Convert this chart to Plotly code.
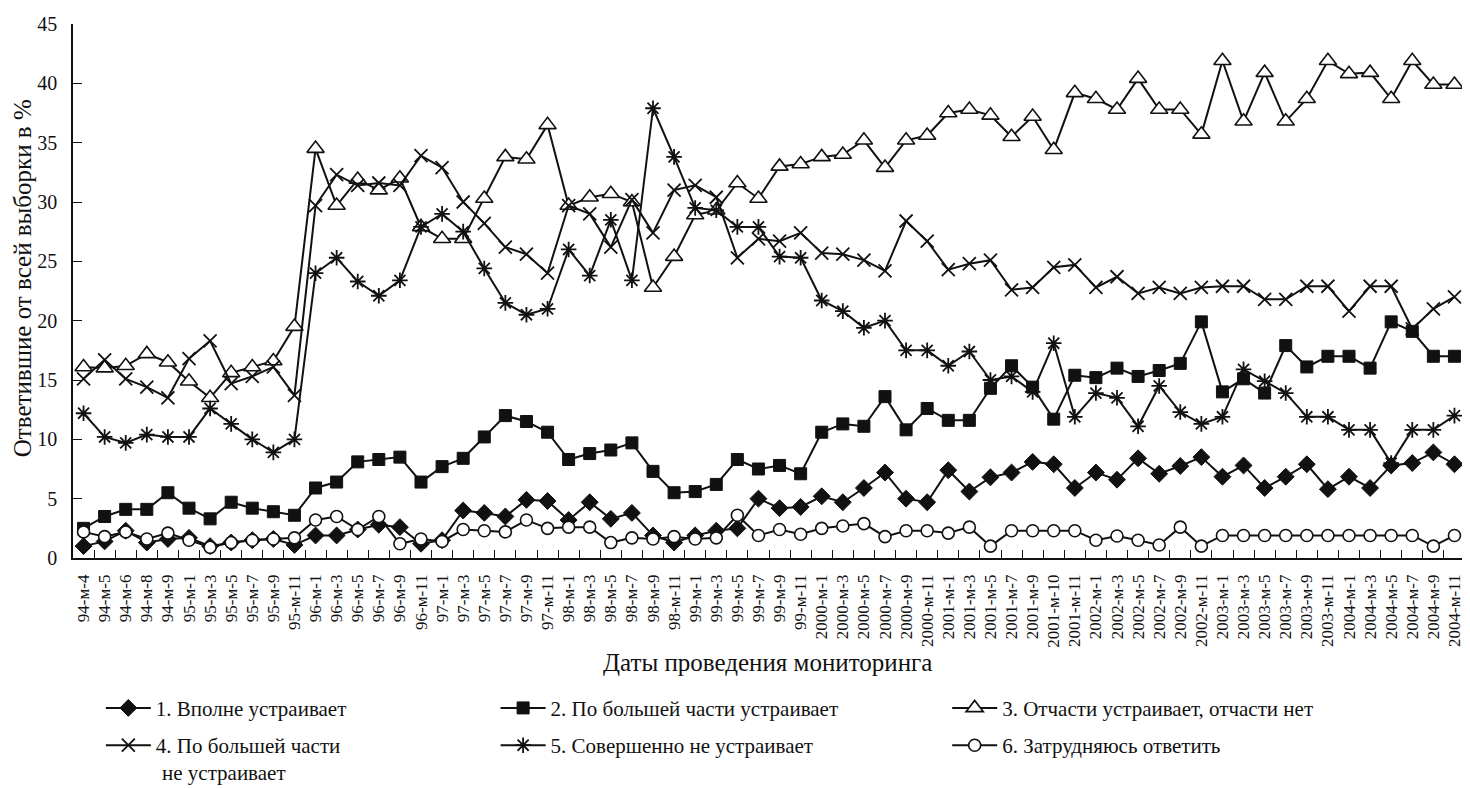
import plotly.graph_objects as go

dates = ["94-м-4","94-м-5","94-м-6","94-м-8","94-м-9","95-м-1","95-м-3","95-м-5","95-м-7","95-м-9","95-м-11",
         "96-м-1","96-м-3","96-м-5","96-м-7","96-м-9","96-м-11","97-м-1","97-м-3","97-м-5","97-м-7","97-м-9","97-м-11",
         "98-м-1","98-м-3","98-м-5","98-м-7","98-м-9","98-м-11","99-м-1","99-м-3","99-м-5","99-м-7","99-м-9","99-м-11",
         "2000-м-1","2000-м-3","2000-м-5","2000-м-7","2000-м-9","2000-м-11",
         "2001-м-1","2001-м-3","2001-м-5","2001-м-7","2001-м-9","2001-м-10","2001-м-11",
         "2002-м-1","2002-м-3","2002-м-5","2002-м-7","2002-м-9","2002-м-11",
         "2003-м-1","2003-м-3","2003-м-5","2003-м-7","2003-м-9","2003-м-11",
         "2004-м-1","2004-м-3","2004-м-5","2004-м-7","2004-м-9","2004-м-11"]

s1_fully = [1.0,1.4,2.3,1.3,1.6,1.7,1.0,1.3,1.5,1.6,1.1,
            1.9,1.9,2.4,2.8,2.6,1.2,1.5,4.0,3.8,3.5,4.9,4.8,
            3.2,4.7,3.3,3.8,1.9,1.3,1.9,2.3,2.5,5.0,4.2,4.3,
            5.2,4.7,5.9,7.2,5.0,4.7,
            7.4,5.6,6.8,7.2,8.1,7.9,5.9,
            7.2,6.6,8.4,7.1,7.75,8.5,
            6.85,7.8,5.9,6.85,7.9,5.8,
            6.85,5.9,7.8,8.0,8.9,7.9]

s2_mostly = [2.5,3.5,4.1,4.1,5.5,4.2,3.3,4.7,4.2,3.9,3.6,
             5.9,6.4,8.1,8.3,8.5,6.4,7.7,8.4,10.2,12.0,11.5,10.6,
             8.3,8.8,9.1,9.7,7.3,5.5,5.6,6.2,8.3,7.5,7.8,7.1,
             10.6,11.3,11.1,13.6,10.8,12.6,
             11.6,11.6,14.3,16.2,14.4,11.7,15.4,
             15.2,16.0,15.3,15.8,16.4,19.9,
             14.0,15.1,13.9,17.9,16.1,17.0,
             17.0,16.0,19.9,19.1,17.0,17.0]

s3_partly = [16.1,16.0,16.2,17.2,16.5,14.9,13.5,15.6,16.1,16.6,19.5,
             34.5,29.7,31.9,31.0,32.0,27.9,26.9,26.9,30.3,33.8,33.6,36.5,
             29.7,30.4,30.7,30.0,22.8,25.4,28.9,29.3,31.6,30.3,33.0,33.2,
             33.8,34.0,35.2,32.9,35.2,35.6,
             37.5,37.8,37.3,35.5,37.2,34.4,39.2,
             38.7,37.8,40.4,37.8,37.8,35.7,
             41.9,36.8,40.9,36.8,38.7,41.9,
             40.8,40.9,38.7,41.9,39.9,39.9]

s4_mostly_not = [15.1,16.7,15.1,14.4,13.5,16.8,18.3,14.7,15.3,16.1,13.7,
                 29.7,32.3,31.4,31.6,31.4,33.9,32.9,30.0,28.2,26.2,25.6,24.0,
                 29.7,29.0,26.2,30.2,27.4,31.0,31.4,30.4,25.3,26.9,26.7,27.4,
                 25.7,25.6,25.1,24.2,28.4,26.7,
                 24.3,24.8,25.1,22.6,22.8,24.5,24.7,
                 22.8,23.7,22.3,22.8,22.3,22.8,
                 22.9,22.9,21.8,21.8,22.9,22.9,
                 20.8,22.9,22.9,19.3,21.0,22.0]

s5_not_at_all = [12.2,10.2,9.7,10.4,10.2,10.2,12.6,11.3,10.0,8.9,10.0,
                 24.0,25.3,23.3,22.1,23.4,27.9,29.0,27.5,24.4,21.5,20.5,21.0,
                 26.0,23.8,28.5,23.4,37.9,33.8,29.5,29.3,27.9,27.9,25.4,25.3,
                 21.7,20.8,19.4,20.0,17.5,17.5,
                 16.2,17.4,15.0,15.3,14.0,18.1,11.9,
                 13.9,13.5,11.1,14.5,12.3,11.3,
                 11.9,15.9,14.9,13.9,11.9,11.9,
                 10.8,10.8,8.0,10.8,10.8,12.0]

s6_hard = [2.2,1.8,2.2,1.6,2.1,1.5,0.9,1.3,1.5,1.6,1.7,
           3.2,3.5,2.4,3.5,1.2,1.6,1.4,2.4,2.3,2.2,3.2,2.5,
           2.6,2.6,1.3,1.7,1.6,1.8,1.6,1.7,3.6,1.9,2.4,2.0,
           2.5,2.7,2.9,1.8,2.3,2.3,
           2.1,2.6,1.0,2.3,2.3,2.3,2.3,
           1.5,1.85,1.5,1.1,2.6,1.0,
           1.9,1.9,1.9,1.9,1.9,1.9,
           1.9,1.9,1.9,1.9,1.0,1.9]

names = ["1. Вполне устраивает",
         "2. По большей части устраивает",
         "3. Отчасти устраивает, отчасти нет",
         "4. По большей части",
         "5. Совершенно не устраивает",
         "6. Затрудняюсь ответить"]
name4_line2 = "не устраивает"

FONT = "Liberation Serif"
INK = "#111111"
LEG_SIZE = 21

styles = [
    dict(symbol="diamond", size=13, color=INK, line=dict(color=INK, width=1)),
    dict(symbol="square", size=12, color=INK, line=dict(color=INK, width=1)),
    dict(symbol="triangle-up", size=15, color="white", line=dict(color=INK, width=1.6)),
    dict(symbol="x-thin", size=13, color=INK, line=dict(color=INK, width=1.8)),
    dict(symbol="asterisk", size=13, color=INK, line=dict(color=INK, width=1.8)),
    dict(symbol="circle", size=12, color="white", line=dict(color=INK, width=1.6)),
]
series = [s1_fully, s2_mostly, s3_partly, s4_mostly_not, s5_not_at_all, s6_hard]
legends = ["legend", "legend2", "legend3", "legend", "legend2", "legend3"]

fig = go.Figure()
for i, (vals, name, st, lg) in enumerate(zip(series, names, styles, legends)):
    fig.add_trace(go.Scatter(
        x=dates, y=vals, name=name, mode="lines+markers",
        line=dict(color=INK, width=2),
        marker=st, legend=lg, legendgroup=f"g{i}",
    ))

leg_common = dict(orientation="v", xanchor="left", yanchor="top", yref="paper",
                  font=dict(family=FONT, size=LEG_SIZE, color=INK), bgcolor="rgba(0,0,0,0)",
                  tracegroupgap=7, itemwidth=45, valign="middle")

# page body has an 8px margin: the figure is sized and offset to compensate
fig.update_layout(
    width=1462, height=780,
    margin=dict(l=65, r=5, t=16, b=230, autoexpand=False),
    paper_bgcolor="white", plot_bgcolor="white",
    font=dict(family=FONT, color=INK),
    showlegend=True,
    legend=dict(x=0.020, y=-0.243, **leg_common),
    legend2=dict(x=0.3036, y=-0.243, **leg_common),
    legend3=dict(x=0.628, y=-0.243, **leg_common),
    xaxis=dict(type="category", range=[-0.5, len(dates) - 0.5],
               tickangle=-90, tickfont=dict(family=FONT, size=17, color=INK),
               ticks="inside", ticklen=8, tickwidth=1.3, tickcolor=INK,
               tickson="boundaries", showline=True, linecolor=INK, linewidth=1.5,
               showgrid=False, zeroline=False, ticklabelstandoff=8),
    yaxis=dict(range=[0, 45], tickvals=[0, 5, 10, 15, 20, 25, 30, 35, 40, 45],
               tickfont=dict(family=FONT, size=20, color=INK),
               ticks="inside", ticklen=9, tickwidth=1.3, tickcolor=INK,
               showline=True, linecolor=INK, linewidth=1.5,
               showgrid=False, zeroline=False, ticklabelstandoff=10),
    annotations=[
        dict(text="Ответившие от всей выборки в %", xref="paper", yref="paper",
             x=-51 / 1392, y=0.524, xanchor="center", yanchor="middle",
             textangle=-90, showarrow=False,
             font=dict(family=FONT, size=25, color=INK)),
        dict(text="Даты проведения мониторинга", xref="paper", yref="paper",
             x=0.4986, y=-0.195, xanchor="center", yanchor="middle", showarrow=False,
             font=dict(family=FONT, size=25, color=INK)),
        dict(text=name4_line2, xref="paper", yref="paper",
             x=87 / 1392, y=-0.403, xanchor="left", yanchor="middle", showarrow=False,
             font=dict(family=FONT, size=LEG_SIZE, color=INK)),
    ],
)

fig.write_html("out.html")
